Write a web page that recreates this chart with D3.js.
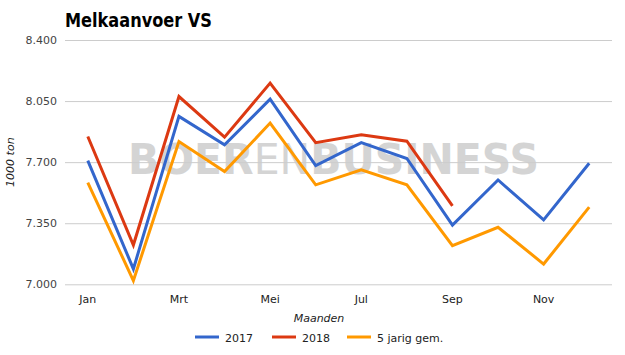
<!DOCTYPE html>
<html>
<head>
<meta charset="utf-8">
<script src="https://cdn.jsdelivr.net/npm/d3@7"></script>
<style>
  body { margin: 0; background: #fff; }
  text { font-family: "DejaVu Sans", Verdana, sans-serif; }
</style>
</head>
<body>
<div id="chart"></div>
<script>
var months = ['Jan', 'Feb', 'Mrt', 'Apr', 'Mei', 'Jun', 'Jul', 'Aug', 'Sep', 'Okt', 'Nov', 'Dec'];
var monthLabels = ['Jan', 'Mrt', 'Mei', 'Jul', 'Sep', 'Nov'];
var s2017 = [7709, 7088, 7962, 7799, 8061, 7680, 7812, 7721, 7339, 7598, 7369, 7694];
var s2018 = [7847, 7225, 8076, 7843, 8153, 7812, 7857, 7820, 7449];
var gem5 = [7583, 7021, 7818, 7646, 7924, 7570, 7656, 7570, 7221, 7327, 7116, 7442];
var yTicks = [7000, 7350, 7700, 8050, 8400];
var seriesNames = ['2017', '2018', '5 jarig gem.'];
var colors = ['#3366cc', '#dc3912', '#ff9900'];

var width = 625;
var height = 355;
var plotLeft = 65, plotRight = 612, plotTop = 40, plotBottom = 284.3;

var nl = d3.formatLocale({decimal: ',', thousands: '.', grouping: [3], currency: ['€', '']});
var fmt = nl.format(',d');

var x = d3.scalePoint()
  .domain(months)
  .range([plotLeft, plotRight])
  .padding(0.5);

var y = d3.scaleLinear()
  .domain([7000, 8400])
  .range([plotBottom, plotTop]);

var svg = d3.select('#chart')
  .append('svg')
    .attr('width', width)
    .attr('height', height);

// watermark (under the gridlines)
var wm = svg.append('text')
    .attr('x', 128)
    .attr('y', 173.5)
    .attr('textLength', 411)
    .attr('lengthAdjust', 'spacingAndGlyphs')
    .attr('fill', '#d4d4d4')
    .style('font-size', '43px')
    .style('font-weight', 'bold');
wm.append('tspan').text('BOER');
wm.append('tspan').style('font-weight', 'normal').text('EN');
wm.append('tspan').text('BUSINESS');

// gridlines + y labels
var yAxis = svg.append('g')
    .attr('transform', 'translate(' + plotLeft + ',0)')
    .call(d3.axisLeft(y).tickValues(yTicks).tickFormat(fmt).tickSize(-(plotRight - plotLeft)).tickPadding(8));
yAxis.select('.domain').remove();
yAxis.selectAll('line').attr('stroke', '#cccccc');
yAxis.selectAll('text')
    .attr('fill', '#444')
    .style('font-size', '11px');

// lines
var line = d3.line()
  .x(function(d, i) { return x(months[i]); })
  .y(function(d) { return y(d); });

[s2017, s2018, gem5].forEach(function(s, i) {
  svg.append('path')
    .datum(s)
    .attr('d', line)
    .attr('fill', 'none')
    .attr('stroke', colors[i])
    .attr('stroke-width', 3);
});

// x labels
svg.append('g')
  .selectAll('text')
  .data(monthLabels).enter()
  .append('text')
    .attr('x', function(d) { return x(d); })
    .attr('y', 303)
    .attr('text-anchor', 'middle')
    .attr('fill', '#222')
    .style('font-size', '11px')
    .text(function(d) { return d; });

svg.append('text')
    .attr('x', 319)
    .attr('y', 322)
    .attr('text-anchor', 'middle')
    .attr('fill', '#222')
    .style('font-size', '11px')
    .style('font-style', 'italic')
    .text('Maanden');

svg.append('text')
    .attr('transform', 'translate(14,' + ((plotTop + plotBottom) / 2) + ') rotate(-90)')
    .attr('text-anchor', 'middle')
    .attr('fill', '#222')
    .style('font-size', '11px')
    .style('font-style', 'italic')
    .text('1000 ton');

// title
svg.append('text')
    .attr('x', 65)
    .attr('y', 27)
    .attr('textLength', 147)
    .attr('lengthAdjust', 'spacingAndGlyphs')
    .attr('fill', '#000')
    .style('font-size', '19px')
    .style('font-weight', 'bold')
    .text('Melkaanvoer VS');

// legend
var legendX = [195, 272, 347];
var legend = svg.append('g');
seriesNames.forEach(function(name, i) {
  legend.append('line')
    .attr('x1', legendX[i])
    .attr('x2', legendX[i] + 24)
    .attr('y1', 337)
    .attr('y2', 337)
    .attr('stroke', colors[i])
    .attr('stroke-width', 3);
  legend.append('text')
    .attr('x', legendX[i] + 30)
    .attr('y', 341.5)
    .attr('fill', '#222')
    .style('font-size', '11px')
    .text(name);
});
</script>
</body>
</html>
